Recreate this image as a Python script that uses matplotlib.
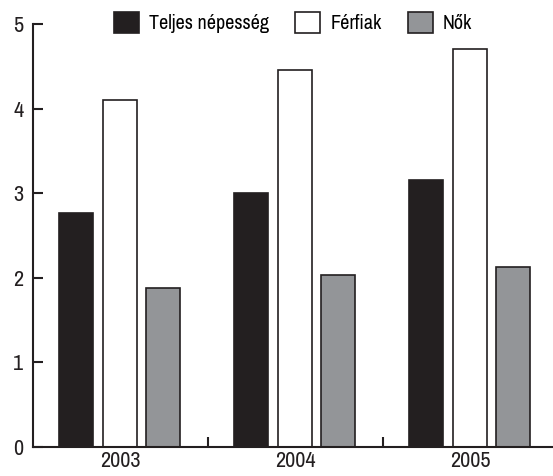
import numpy as np
import matplotlib.pyplot as plt
from matplotlib.patches import Patch

plt.rcParams['font.family'] = ['Archivo Narrow', 'Roboto Condensed', 'DejaVu Sans']

years = ['2003', '2004', '2005']
series = ['Teljes népesség', 'Férfiak', 'Nők']
total = [2.77, 3.00, 3.16]
men = [4.10, 4.46, 4.70]
women = [1.88, 2.03, 2.13]
colors = ['#231f20', 'white', '#939598']

fig = plt.figure(figsize=(5.53, 4.76), dpi=100)
ax = fig.add_axes([33 / 553, 29 / 476, 1 - 33 / 553, 423 / 476])

x = np.arange(len(years))
width = 0.194
offsets = [-0.251, 0, 0.246]
for vals, off, c in zip([total, men, women], offsets, colors):
    ax.bar(x + off, vals, width, color=c, edgecolor='#231f20', linewidth=1.2)

ax.set_xlim(-0.497, 2.474)
ax.set_ylim(0, 5)
ax.set_yticks(range(6))
ax.set_xticks(x)
ax.set_xticklabels(years)
ax.set_xticks([0.5, 1.5], minor=True)

for s in ['top', 'right']:
    ax.spines[s].set_visible(False)
for s in ['left', 'bottom']:
    ax.spines[s].set_linewidth(1.5)
    ax.spines[s].set_color('#231f20')

ax.tick_params(axis='y', direction='in', length=7.5, width=1.5, labelsize=16, pad=7, colors='#231f20')
ax.tick_params(axis='x', which='major', length=0, labelsize=16, pad=3, colors='#231f20')
ax.tick_params(axis='x', which='minor', direction='in', length=7.5, width=1.5, colors='#231f20')

handles = [Patch(facecolor=c, edgecolor='#231f20', linewidth=1.2) for c in colors]
fig.legend(handles, series, loc='center', bbox_to_anchor=(0.53, 0.953), ncol=3,
           frameon=False, fontsize=14.5, handlelength=1.24, handleheight=1.24,
           handletextpad=0.5, columnspacing=1.3)

fig.savefig('out.png', dpi=100)
